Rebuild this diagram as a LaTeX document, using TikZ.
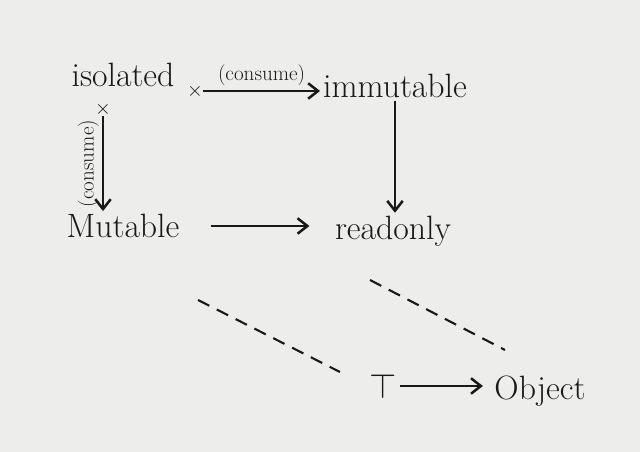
\documentclass[tikz,border=0pt]{standalone}
\usepackage{tikz}
\usetikzlibrary{arrows.meta,positioning}
\definecolor{board}{RGB}{237,237,236}
\definecolor{ink}{RGB}{25,25,25}
\tikzset{
  typ/.style={font=\fontsize{24}{28}\selectfont, text=ink, inner sep=2pt},
  lbl/.style={font=\fontsize{15}{17}\selectfont, text=ink, inner sep=2pt},
  xmark/.style={font=\fontsize{14}{16}\selectfont, text=ink, inner sep=0pt},
  arr/.style={-{Straight Barb[length=7pt,width=11pt]}, line width=1.8pt, draw=ink},
  sub/.style={line width=1.5pt, draw=ink, dash pattern=on 9pt off 6pt},
}

\begin{document}
\begin{tikzpicture}[x=0.025cm, y=-0.025cm]
  \useasboundingbox[fill=board] (0,0) rectangle (640,452);
  % qualifiers
  \node[typ] (iso) at (123,75) {isolated};
  \node[typ] (imm) at (395,86) {immutable};
  \node[typ] (mut) at (123,226) {Mutable};
  \node[typ] (ro)  at (393,231) {readonly};
  \node[typ] (top) at (383,386) {$\top$};
  \node[typ] (obj) at (540,391) {Object};
  % consume points
  \node[xmark] (xr) at (195,91) {$\times$};
  \node[xmark] (xd) at (103,109) {$\times$};
  % edges
  \draw[arr] (xr) -- (xr -| imm.west)
    node[lbl, midway, above=1pt] {(consume)};
  \draw[arr] (xd) -- (xd |- mut.north)
    node[lbl, midway, rotate=90, anchor=south] {(consume)};
  \draw[arr] (imm.south) -- (imm.south |- ro.north);
  \draw[arr, shorten <=20pt, shorten >=16pt] (mut.east) -- (mut.east -| ro.west);
  \draw[arr, shorten >=6pt] (top.east) -- (top.east -| obj.west);
  % dashed boundaries
  \coordinate (d1) at (198,300);
  \coordinate (d2) at (340,372);
  \coordinate (d3) at (370,280);
  \coordinate (d4) at (505,350);
  \draw[sub] (d1) -- (d2);
  \draw[sub] (d3) -- (d4);
\end{tikzpicture}
\end{document}
